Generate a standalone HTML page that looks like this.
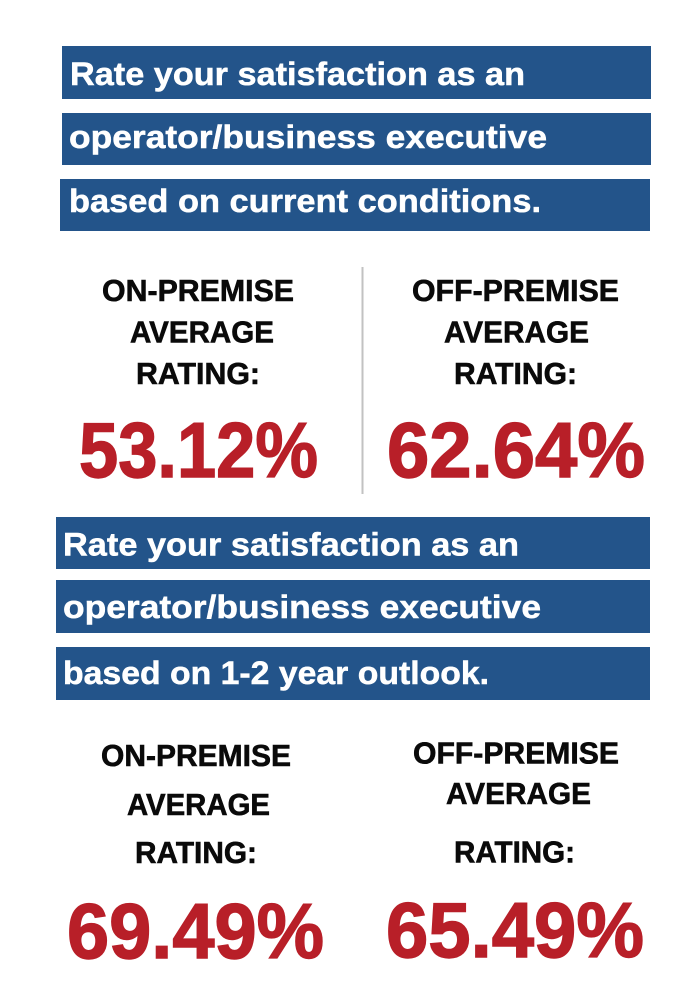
<!DOCTYPE html>
<html>
<head>
<meta charset="utf-8">
<style>
  html, body { margin: 0; padding: 0; background: #ffffff; }
  body { width: 678px; height: 994px; overflow: hidden; }
  svg { display: block; }
  .ban { font-family: "Liberation Sans", sans-serif; font-weight: bold; font-size: 32px; fill: #ffffff; stroke: #ffffff; stroke-width: 0.5px; }
  .hd { font-family: "Liberation Sans", sans-serif; font-weight: bold; font-size: 30.5px; fill: #0a0a0a; stroke: #0a0a0a; stroke-width: 0.6px; }
  .pct { font-family: "Liberation Sans", sans-serif; font-weight: bold; font-size: 78px; fill: #b81f28; stroke: #b81f28; stroke-width: 1.4px; }
</style>
</head>
<body>
<svg width="678" height="994" viewBox="0 0 678 994" xmlns="http://www.w3.org/2000/svg">
  <rect x="0" y="0" width="678" height="994" fill="#ffffff"/>

  <!-- Top banners -->
  <rect x="62" y="46" width="589" height="53" fill="#23548a"/>
  <rect x="62" y="113" width="589" height="52" fill="#23548a"/>
  <rect x="60" y="179" width="590" height="52" fill="#23548a"/>
  <text class="ban" x="70" y="85" textLength="455" lengthAdjust="spacingAndGlyphs">Rate your satisfaction as an</text>
  <text class="ban" x="69" y="148" textLength="478" lengthAdjust="spacingAndGlyphs">operator/business executive</text>
  <text class="ban" x="69" y="212" textLength="472" lengthAdjust="spacingAndGlyphs">based on current conditions.</text>

  <!-- Divider -->
  <rect x="361.5" y="267" width="2" height="227" fill="#c2c2c2"/>

  <!-- Top left column -->
  <text class="hd" x="102" y="301" textLength="192" lengthAdjust="spacingAndGlyphs">ON-PREMISE</text>
  <text class="hd" x="130" y="342.5" textLength="144" lengthAdjust="spacingAndGlyphs">AVERAGE</text>
  <text class="hd" x="136" y="384" textLength="124" lengthAdjust="spacingAndGlyphs">RATING:</text>
  <text class="pct" x="79" y="477" textLength="239" lengthAdjust="spacingAndGlyphs">53.12%</text>

  <!-- Top right column -->
  <text class="hd" x="412" y="301" textLength="207" lengthAdjust="spacingAndGlyphs">OFF-PREMISE</text>
  <text class="hd" x="444" y="342.5" textLength="145" lengthAdjust="spacingAndGlyphs">AVERAGE</text>
  <text class="hd" x="454" y="384" textLength="123" lengthAdjust="spacingAndGlyphs">RATING:</text>
  <text class="pct" x="387" y="477" textLength="258" lengthAdjust="spacingAndGlyphs">62.64%</text>

  <!-- Bottom banners -->
  <rect x="56" y="517" width="594" height="52" fill="#23548a"/>
  <rect x="56" y="580" width="594" height="53" fill="#23548a"/>
  <rect x="56" y="647" width="594" height="53" fill="#23548a"/>
  <text class="ban" x="63" y="555.5" textLength="456" lengthAdjust="spacingAndGlyphs">Rate your satisfaction as an</text>
  <text class="ban" x="63" y="618" textLength="478" lengthAdjust="spacingAndGlyphs">operator/business executive</text>
  <text class="ban" x="63" y="684" textLength="426" lengthAdjust="spacingAndGlyphs">based on 1-2 year outlook.</text>

  <!-- Bottom left column -->
  <text class="hd" x="101" y="766" textLength="190" lengthAdjust="spacingAndGlyphs">ON-PREMISE</text>
  <text class="hd" x="127" y="815" textLength="143" lengthAdjust="spacingAndGlyphs">AVERAGE</text>
  <text class="hd" x="135" y="863" textLength="122" lengthAdjust="spacingAndGlyphs">RATING:</text>
  <text class="pct" x="67" y="958" textLength="257" lengthAdjust="spacingAndGlyphs">69.49%</text>

  <!-- Bottom right column -->
  <text class="hd" x="413" y="763.5" textLength="206" lengthAdjust="spacingAndGlyphs">OFF-PREMISE</text>
  <text class="hd" x="446" y="804" textLength="145" lengthAdjust="spacingAndGlyphs">AVERAGE</text>
  <text class="hd" x="454" y="862.5" textLength="121" lengthAdjust="spacingAndGlyphs">RATING:</text>
  <text class="pct" x="386" y="957" textLength="258" lengthAdjust="spacingAndGlyphs">65.49%</text>
</svg>
</body>
</html>
